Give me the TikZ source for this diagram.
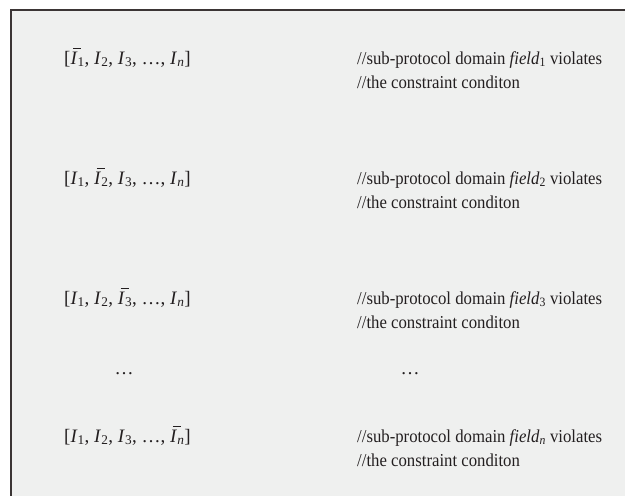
\documentclass[tikz,border=0pt]{standalone}
\usepackage{fontspec}
\setmainfont{Liberation Serif}
\newfontfamily\rfont[FakeStretch=0.92]{Liberation Serif}
\definecolor{boxfill}{HTML}{EFF0EF}
\definecolor{boxline}{HTML}{3B3535}
\definecolor{txt}{HTML}{231F20}
\newcommand\barI[1]{\rlap{\hspace{0.14em}\rule[0.78em]{0.42em}{0.06em}}\textit{I}\textsubscript{#1}}
\newcommand\Isub[1]{\textit{I}\textsubscript{#1}}
\begin{document}
\begin{tikzpicture}[x=1pt,y=-1pt,
  lnode/.style={font=\fontsize{19}{24}\selectfont, inner sep=0pt, anchor=base west, text=txt},
  rnode/.style={font=\rfont\fontsize{18.2}{24}\selectfont, inner sep=0pt, anchor=base west, text=txt},
  dotsnode/.style={font=\fontsize{19}{24}\selectfont, inner sep=0pt, anchor=base, text=txt}]
\useasboundingbox (0,0) rectangle (625,496);
\clip (0,0) rectangle (625,496);
\draw[fill=boxfill, draw=boxline, line width=2pt] (11,10) rectangle (650,520);
% row 1
\node[lnode] (l1) at (64,64) {[\barI{1}, \Isub{2}, \Isub{3}, …, \Isub{\textit{n}}]};
\node[rnode] (r1) at (357,64) {//sub-protocol domain \textit{field}\textsubscript{1} violates};
\node[rnode] (r1b) at (357,88) {//the constraint conditon};
% row 2
\node[lnode] (l2) at (64,184) {[\Isub{1}, \barI{2}, \Isub{3}, …, \Isub{\textit{n}}]};
\node[rnode] (r2) at (357,184) {//sub-protocol domain \textit{field}\textsubscript{2} violates};
\node[rnode] (r2b) at (357,208) {//the constraint conditon};
% row 3
\node[lnode] (l3) at (64,304) {[\Isub{1}, \Isub{2}, \barI{3}, …, \Isub{\textit{n}}]};
\node[rnode] (r3) at (357,304) {//sub-protocol domain \textit{field}\textsubscript{3} violates};
\node[rnode] (r3b) at (357,328) {//the constraint conditon};
% dots
\node[dotsnode] (d1) at (124,374) {…};
\node[dotsnode] (d2) at (410,374) {…};
% row n
\node[lnode] (l4) at (64,442) {[\Isub{1}, \Isub{2}, \Isub{3}, …, \barI{\textit{n}}]};
\node[rnode] (r4) at (357,442) {//sub-protocol domain \textit{field}\textsubscript{\textit{n}} violates};
\node[rnode] (r4b) at (357,466) {//the constraint conditon};
\end{tikzpicture}
\end{document}
